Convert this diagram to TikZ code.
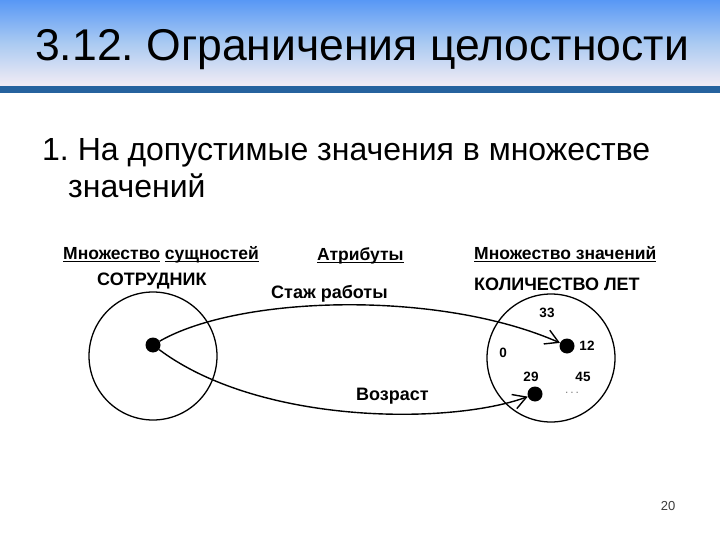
\documentclass[tikz,border=0pt]{standalone}
\usepackage{fontspec}
\setmainfont{Liberation Sans}
\usetikzlibrary{arrows.meta}
\definecolor{topblue}{RGB}{88,152,245}
\definecolor{midblue}{RGB}{170,202,242}
\definecolor{botpale}{RGB}{242,236,244}
\definecolor{barblue}{RGB}{38,98,158}
\definecolor{pagegray}{RGB}{60,60,60}
\newcommand{\myul}[1]{\setbox0\hbox{#1}\rlap{\rule[-2.6pt]{\wd0}{1.1pt}}\box0\relax}
\frenchspacing
\begin{document}
\begin{tikzpicture}[x=1pt,y=-1pt,
  lbl/.style={font=\fontsize{17.5}{20}\selectfont\bfseries, inner sep=0pt, anchor=base west},
  biglbl/.style={font=\fontsize{18}{21}\selectfont\bfseries, inner sep=0pt, anchor=base west},
  num/.style={font=\fontsize{13.5}{16}\selectfont\bfseries, inner sep=0pt},
  setc/.style={draw, line width=1.3pt, circle, inner sep=0pt, minimum size=128pt},
  dotn/.style={fill, circle, inner sep=0pt, minimum size=15pt},
  arr/.style={line width=1.4pt, -{Straight Barb[length=13pt,width=15pt,line width=1.4pt]}}]
\useasboundingbox (0,0) rectangle (720,540);
\fill[white] (0,0) rectangle (720,540);
% title band
\shade[top color=topblue, bottom color=botpale, middle color=midblue] (0,0) rectangle (720,86);
\fill[barblue] (0,86) rectangle (720,93);
\node[font=\fontsize{44.5}{50}\selectfont, inner sep=0pt, anchor=base west] (title) at (35,61) {3.12. Ограничения целостности};
% body
\node[font=\fontsize{32}{36}\selectfont, inner sep=0pt, anchor=base west] (l1) at (42,161) {1. На допустимые значения в множестве};
\node[font=\fontsize{32}{36}\selectfont, inner sep=0pt, anchor=base west] (l2) at (68,197) {значений};
% headers
\node[lbl] (h1) at (63,259) {\myul{Множество} \myul{сущностей}};
\node[lbl] (h2) at (317,260) {\myul{Атрибуты}};
\node[lbl] (h3) at (474,259) {\myul{Множество значений}};
\node[biglbl] (emp) at (97,285) {СОТРУДНИК};
\node[biglbl] (kol) at (474,290) {КОЛИЧЕСТВО ЛЕТ};
\node[biglbl] (staz) at (271,298) {Стаж работы};
\node[biglbl] (vozr) at (356,400) {Возраст};
% sets
\node[setc] (left) at (153,356) {};
\node[setc] (right) at (551,358) {};
\node[dotn] (A) at (153,345) {};
\node[dotn] (B) at (567,346) {};
\node[dotn] (C) at (535,394) {};
\node[num] (n33) at (547,313) {33};
\node[num] (n12) at (587,346) {12};
\node[num] (n0) at (503,353) {0};
\node[num] (n29) at (531,377) {29};
\node[num] (n45) at (583,377) {45};
\node[font=\fontsize{12}{14}\selectfont, text=gray, inner sep=0pt] (dots) at (572,393) {.\,.\,.};
% connectors
\draw[arr] (A) .. controls (240,295) and (440,290) .. (B);
\draw[arr] (A) .. controls (260,425) and (450,425) .. (C);
% page number
\node[font=\fontsize{13}{15}\selectfont, text=pagegray, inner sep=0pt] (pg) at (668,506) {20};
\end{tikzpicture}
\end{document}
